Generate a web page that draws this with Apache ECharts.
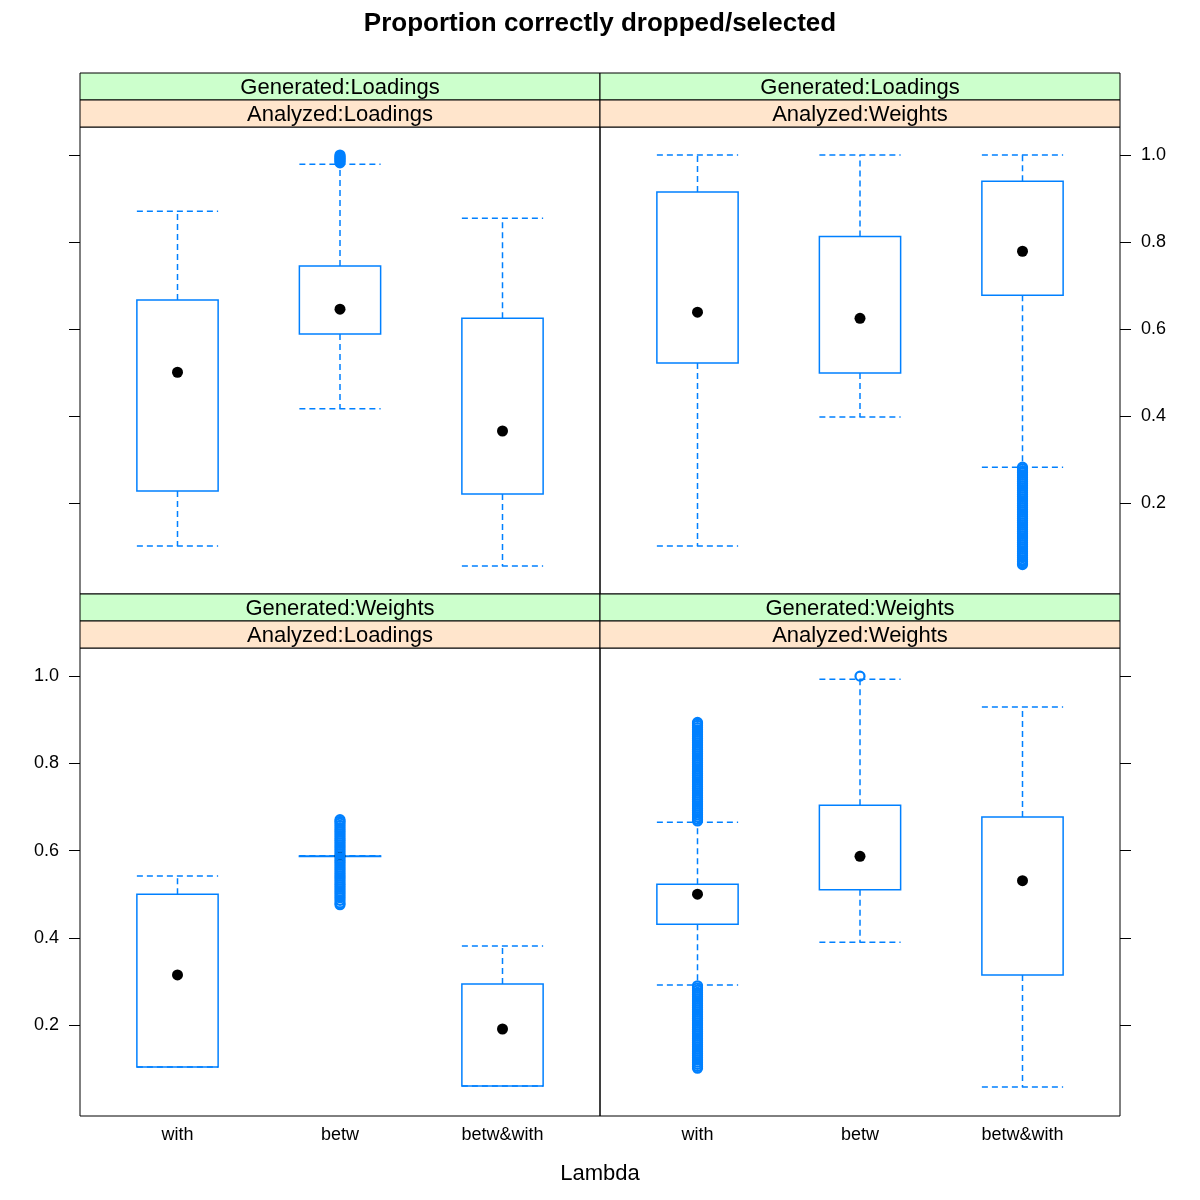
<!DOCTYPE html>
<html>
<head>
<meta charset="utf-8">
<script src="https://cdn.jsdelivr.net/npm/echarts@6/dist/echarts.min.js"></script>
<style>html,body{margin:0;padding:0;background:#fff}#c{width:1200px;height:1200px}</style>
</head>
<body>
<div id="c"></div>
<script>
// ---------- data ----------
const categories = ['with', 'betw', 'betw&with'];
const yTicks = [0.2, 0.4, 0.6, 0.8, 1.0];
const generatedLabels = ['Generated:Loadings', 'Generated:Loadings', 'Generated:Weights', 'Generated:Weights'];
const analyzedLabels = ['Analyzed:Loadings', 'Analyzed:Weights', 'Analyzed:Loadings', 'Analyzed:Weights'];

// box stats per category: [lower whisker, Q1, median, Q3, upper whisker]
const statsGenLoadAnaLoad = [
  [0.102, 0.228, 0.501, 0.667, 0.871],
  [0.417, 0.589, 0.646, 0.745, 0.979],
  [0.056, 0.221, 0.366, 0.625, 0.855]
];
const statsGenLoadAnaWeight = [
  [0.102, 0.522, 0.639, 0.915, 1.000],
  [0.398, 0.499, 0.625, 0.813, 1.000],
  [0.283, 0.678, 0.779, 0.940, 1.000]
];
const statsGenWeightAnaLoad = [
  [0.104, 0.104, 0.315, 0.500, 0.542],
  [0.5875, 0.5875, 0.5875, 0.5875, 0.5875],
  [0.060, 0.060, 0.191, 0.294, 0.381]
];
const statsGenWeightAnaWeight = [
  [0.292, 0.431, 0.500, 0.523, 0.665],
  [0.390, 0.510, 0.587, 0.704, 0.993],
  [0.058, 0.315, 0.531, 0.677, 0.929]
];

// outlier values
const outGenLoadAnaLoad_betw = [0.982, 0.985, 0.988, 0.991, 0.994, 0.997, 1.0];
const outGenLoadAnaWeight_betwwith = [0.283, 0.279, 0.274, 0.27, 0.265, 0.26, 0.255, 0.25, 0.245, 0.24, 0.235, 0.23, 0.225, 0.22, 0.215, 0.21, 0.205, 0.2, 0.195, 0.19, 0.185, 0.18, 0.175, 0.17, 0.165, 0.16, 0.155, 0.15, 0.145, 0.14, 0.135, 0.13, 0.125, 0.12, 0.115, 0.11, 0.105, 0.1, 0.095, 0.09, 0.085, 0.08, 0.075, 0.07, 0.066, 0.062, 0.059];
const outGenWeightAnaLoad_betw = [0.476, 0.48, 0.486, 0.492, 0.497, 0.502, 0.507, 0.512, 0.517, 0.522, 0.527, 0.532, 0.537, 0.542, 0.547, 0.552, 0.557, 0.562, 0.567, 0.572, 0.577, 0.582, 0.593, 0.598, 0.603, 0.608, 0.613, 0.618, 0.623, 0.628, 0.633, 0.638, 0.643, 0.648, 0.653, 0.658, 0.663, 0.667, 0.671];
const outGenWeightAnaWeight_withHigh = [0.668, 0.672, 0.677, 0.682, 0.687, 0.692, 0.697, 0.702, 0.707, 0.712, 0.717, 0.722, 0.727, 0.732, 0.737, 0.742, 0.747, 0.752, 0.757, 0.762, 0.767, 0.772, 0.777, 0.782, 0.787, 0.792, 0.797, 0.802, 0.807, 0.812, 0.817, 0.822, 0.827, 0.832, 0.837, 0.842, 0.847, 0.852, 0.857, 0.862, 0.867, 0.872, 0.877, 0.882, 0.887, 0.891, 0.894];
const outGenWeightAnaWeight_withLow = [0.101, 0.105, 0.11, 0.115, 0.12, 0.125, 0.13, 0.135, 0.14, 0.145, 0.15, 0.155, 0.16, 0.165, 0.17, 0.175, 0.18, 0.185, 0.19, 0.195, 0.2, 0.205, 0.21, 0.215, 0.22, 0.225, 0.23, 0.235, 0.24, 0.245, 0.25, 0.255, 0.26, 0.265, 0.27, 0.275, 0.28, 0.285, 0.29];
const outGenWeightAnaWeight_betw = [1.0];

// ---------- build ----------
const BLUE = '#0080ff';
const FONT = '"Liberation Sans", Arial, Helvetica, sans-serif';
const panelStats = [statsGenLoadAnaLoad, statsGenLoadAnaWeight, statsGenWeightAnaLoad, statsGenWeightAnaWeight];
const panelOutliers = [
  outGenLoadAnaLoad_betw.map(v => [2, v]),
  outGenLoadAnaWeight_betwwith.map(v => [3, v]),
  outGenWeightAnaLoad_betw.map(v => [2, v]),
  outGenWeightAnaWeight_withHigh.map(v => [1, v])
    .concat(outGenWeightAnaWeight_withLow.map(v => [1, v]))
    .concat(outGenWeightAnaWeight_betw.map(v => [2, v]))
];

const grids = [
  {left: 80, top: 127, width: 520, height: 467},
  {left: 600, top: 127, width: 520, height: 467},
  {left: 80, top: 648, width: 520, height: 468},
  {left: 600, top: 648, width: 520, height: 468}
].map(g => Object.assign(g, {show: true, borderColor: '#000', borderWidth: 1, backgroundColor: 'transparent', containLabel: false}));

const xAxes = [0, 1, 2, 3].map(i => ({
  gridIndex: i, type: 'value', min: 0.4, max: 3.6,
  axisLine: {show: false}, axisTick: {show: false}, splitLine: {show: false},
  axisLabel: {show: i >= 2, customValues: [1, 2, 3], formatter: v => categories[Math.round(v) - 1],
    fontSize: 18, color: '#000', fontFamily: FONT, margin: 10}
}));
const yAxes = [0, 1, 2, 3].map(i => ({
  gridIndex: i, type: 'value', min: -0.0085, max: 1.0645,
  position: (i % 2 === 0) ? 'left' : 'right',
  axisLine: {show: false}, splitLine: {show: false},
  axisTick: {show: true, inside: false, length: 11, customValues: yTicks, lineStyle: {color: '#000', width: 1}},
  axisLabel: {show: (i === 1 || i === 2), customValues: yTicks, formatter: v => v.toFixed(1),
    fontSize: 18, color: '#000', fontFamily: FONT, margin: 21}
}));

function renderBox(params, api) {
  const x = api.value(0);
  const lo = api.coord([x, api.value(1)]);
  const q1 = api.coord([x, api.value(2)]);
  const med = api.coord([x, api.value(3)]);
  const q3 = api.coord([x, api.value(4)]);
  const hi = api.coord([x, api.value(5)]);
  const hw = api.size([0.5, 0])[0] / 2;
  const cx = lo[0];
  const dash = {stroke: BLUE, lineWidth: 1.5, lineDash: [6, 4], fill: null};
  return {
    type: 'group',
    children: [
      {type: 'line', shape: {x1: cx, y1: q3[1], x2: cx, y2: hi[1]}, style: dash},
      {type: 'line', shape: {x1: cx, y1: q1[1], x2: cx, y2: lo[1]}, style: dash},
      {type: 'line', shape: {x1: cx - hw, y1: hi[1], x2: cx + hw, y2: hi[1]}, style: dash},
      {type: 'line', shape: {x1: cx - hw, y1: lo[1], x2: cx + hw, y2: lo[1]}, style: dash},
      {type: 'rect', shape: {x: cx - hw, y: q3[1], width: 2 * hw, height: Math.max(q1[1] - q3[1], 0.5)},
        style: {fill: null, stroke: BLUE, lineWidth: 1.5}},
      {type: 'circle', shape: {cx: cx, cy: med[1], r: 5.5}, style: {fill: '#000'}}
    ]
  };
}

const series = [];
panelStats.forEach((stats, i) => {
  series.push({
    type: 'custom', xAxisIndex: i, yAxisIndex: i, renderItem: renderBox, z: 2,
    encode: {x: 0, y: [1, 2, 3, 4, 5]},
    data: stats.map((s, k) => [k + 1].concat(s))
  });
  series.push({
    type: 'scatter', xAxisIndex: i, yAxisIndex: i, z: 3,
    symbol: 'circle', symbolSize: 9,
    itemStyle: {color: 'rgba(0,0,0,0)', borderColor: BLUE, borderWidth: 2.2, opacity: 1},
    data: panelOutliers[i]
  });
});

const graphics = [];
grids.forEach((g, i) => {
  const top = g.top - 54;
  [[generatedLabels[i], '#ccffcc', top], [analyzedLabels[i], '#ffe5cc', top + 27]].forEach(([t, c, y]) => {
    graphics.push({type: 'rect', shape: {x: g.left, y: y, width: g.width, height: 27},
      style: {fill: c, stroke: '#000', lineWidth: 1}, z: 10});
    graphics.push({type: 'text', x: g.left + g.width / 2, y: y + 15,
      style: {text: t, fontSize: 22, fontFamily: FONT, fill: '#000', textAlign: 'center', textVerticalAlign: 'middle'}, z: 11});
  });
});

const chart = echarts.init(document.getElementById('c'), null, {renderer: 'canvas'});
chart.setOption({
  animation: false,
  backgroundColor: '#fff',
  title: [
    {text: 'Proportion correctly dropped/selected', left: 'center', top: 6,
      textStyle: {fontSize: 26, fontWeight: 'bold', color: '#000', fontFamily: FONT}},
    {text: 'Lambda', left: 'center', top: 1158,
      textStyle: {fontSize: 22, fontWeight: 'normal', color: '#000', fontFamily: FONT}}
  ],
  grid: grids,
  xAxis: xAxes,
  yAxis: yAxes,
  series: series,
  graphic: graphics
});
</script>
</body>
</html>
